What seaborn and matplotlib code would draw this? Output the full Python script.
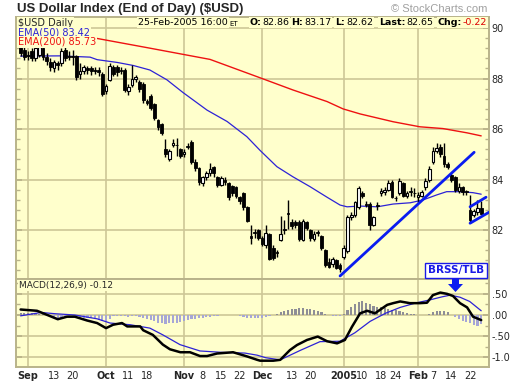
import numpy as np
import pandas as pd
import matplotlib
matplotlib.use("Agg")
import matplotlib.pyplot as plt
from matplotlib.ticker import MultipleLocator
from matplotlib.patches import Polygon
import seaborn as sns

sns.set_theme(style="ticks")
plt.rcParams['font.family'] = ['DejaVu Sans']

# trading days Aug 30 2004 .. Feb 25 2005
holidays = ["2004-09-06", "2004-11-25", "2004-12-24", "2005-01-17", "2005-02-21"]
dates = pd.bdate_range("2004-08-30", "2005-02-25")
dates = dates[~dates.isin(pd.to_datetime(holidays))]

opens = [89.30, 89.15, 88.90, 89.10, 88.80, 88.95, 89.20, 88.85, 88.65, 88.40,
         88.60, 88.60, 89.15, 88.85, 88.90, 88.90, 88.20, 88.30, 88.40, 88.40,
         88.30, 88.35, 88.20, 87.50, 87.95, 88.45, 88.45, 88.35, 88.35, 87.50,
         87.75, 88.00, 87.85, 87.80, 87.10, 87.30, 87.00, 86.35, 86.20, 85.20,
         84.80, 85.35, 85.35, 85.20, 85.00, 85.30, 85.50, 84.70, 84.45, 83.85,
         84.10, 84.25, 84.50, 84.10, 83.80, 84.00, 83.85, 83.75, 83.70, 83.30,
         83.45, 82.90, 81.75, 81.90, 82.00, 81.70, 81.40, 81.85, 81.30, 81.10,
         81.60, 82.00, 82.65, 82.30, 82.30, 82.30, 81.60, 82.30, 82.00, 81.65,
         81.90, 81.75, 81.20, 80.75, 80.65, 80.80, 80.60, 80.95, 81.15, 82.50,
         82.60, 82.90, 83.45, 83.05, 83.05, 82.20, 82.95, 83.45, 83.50, 83.60,
         83.90, 83.25, 83.45, 83.85, 83.35, 83.50, 83.45, 83.30, 83.35, 83.70,
         84.00, 84.70, 85.15, 85.30, 84.95, 84.60, 84.20, 84.10, 83.55, 83.70,
         83.50, 82.80, 82.60, 82.70, 82.86]
highs = [89.45, 89.30, 89.10, 89.20, 89.30, 89.40, 89.30, 89.00, 88.80, 88.75,
         88.70, 89.20, 89.25, 89.10, 89.15, 88.95, 88.60, 88.55, 88.50, 88.50,
         88.45, 88.45, 88.25, 87.80, 88.60, 88.55, 88.55, 88.45, 88.40, 87.80,
         88.55, 88.15, 87.95, 87.85, 87.20, 87.40, 87.05, 86.40, 86.25, 85.60,
         85.20, 85.60, 85.65, 85.25, 85.20, 85.45, 85.55, 84.80, 84.50, 84.15,
         84.35, 84.65, 84.55, 84.15, 84.15, 84.10, 83.90, 83.80, 83.75, 83.35,
         83.50, 82.95, 82.20, 82.05, 82.05, 81.75, 82.20, 81.90, 81.40, 81.20,
         82.55, 82.40, 83.20, 82.45, 82.40, 82.40, 82.45, 82.35, 82.05, 81.95,
         82.00, 81.80, 81.25, 80.90, 80.95, 80.85, 80.70, 81.40, 82.60, 82.70,
         83.15, 83.75, 83.55, 83.15, 83.10, 82.55, 83.10, 83.65, 83.70, 84.00,
         84.00, 83.35, 84.05, 83.90, 83.55, 83.70, 83.65, 83.50, 83.60, 84.05,
         84.55, 85.30, 85.45, 85.40, 85.45, 84.70, 84.25, 84.15, 83.85, 83.75,
         83.60, 83.40, 82.85, 83.20, 83.17]
lows = [88.90, 88.75, 88.75, 88.70, 88.70, 88.85, 88.75, 88.55, 88.30, 88.25,
        88.35, 88.50, 88.70, 88.75, 88.55, 87.95, 88.00, 88.20, 88.20, 88.15,
        88.20, 88.10, 87.30, 87.40, 87.90, 88.10, 88.10, 88.20, 87.45, 87.35,
        87.65, 87.85, 87.45, 87.05, 86.95, 86.75, 86.35, 85.95, 85.75, 84.90,
        84.75, 85.30, 84.95, 84.85, 84.90, 85.20, 84.60, 84.35, 83.80, 83.75,
        84.00, 84.15, 84.10, 83.70, 83.75, 83.80, 83.20, 83.35, 83.25, 83.05,
        82.80, 82.30, 81.45, 81.70, 81.60, 81.35, 81.30, 80.80, 80.80, 80.95,
        81.55, 81.85, 82.05, 82.05, 82.10, 81.55, 81.55, 82.00, 81.55, 81.55,
        81.75, 81.20, 80.55, 80.50, 80.55, 80.45, 80.35, 80.85, 81.10, 82.40,
        82.50, 82.85, 83.25, 82.90, 82.00, 82.15, 82.80, 83.35, 83.40, 83.55,
        83.25, 83.15, 83.40, 83.30, 83.25, 83.35, 83.30, 83.10, 83.30, 83.60,
        83.90, 84.60, 85.05, 84.90, 84.50, 84.40, 83.90, 83.50, 83.45, 83.40,
        83.40, 82.30, 82.50, 82.60, 82.62]
closes = [89.00, 88.85, 88.95, 88.80, 89.20, 89.25, 88.85, 88.70, 88.45, 88.65,
          88.55, 89.10, 88.80, 88.90, 88.85, 88.05, 88.30, 88.45, 88.35, 88.30,
          88.35, 88.25, 87.40, 87.70, 88.50, 88.20, 88.25, 88.30, 87.55, 87.65,
          88.00, 88.05, 87.60, 87.15, 87.05, 86.85, 86.45, 86.10, 85.85, 85.00,
          85.15, 85.45, 85.35, 84.95, 85.10, 85.30, 84.70, 84.45, 83.90, 84.10,
          84.25, 84.40, 84.25, 83.80, 84.05, 83.90, 83.30, 83.45, 83.35, 83.15,
          82.90, 82.35, 81.70, 81.90, 81.70, 81.45, 81.90, 80.85, 80.90, 81.10,
          81.85, 82.00, 82.65, 82.15, 82.20, 81.65, 82.35, 82.10, 81.70, 81.85,
          81.90, 81.30, 80.60, 80.55, 80.85, 80.50, 80.45, 81.30, 82.50, 82.60,
          83.10, 83.65, 83.35, 83.00, 82.20, 82.50, 82.95, 83.55, 83.60, 83.85,
          83.30, 83.25, 83.95, 83.35, 83.45, 83.50, 83.45, 83.40, 83.50, 83.95,
          84.40, 85.15, 85.25, 85.00, 84.60, 84.50, 84.00, 83.60, 83.70, 83.50,
          83.50, 82.40, 82.75, 82.87, 82.65]

# moving averages (trading-day index, value)
ema50_at = [0, 10.6, 18.7, 20.6, 26, 30.3, 34.8, 39.4, 43.7, 50.2, 55.6, 60.9, 64.5,
            69, 73.3, 77.9, 82.5, 86, 87.9, 91.4, 96, 100.3, 104.9, 108.3, 112,
            114.7, 118.2, 121.8, 124]
ema50_val = [88.89, 88.90, 88.85, 88.75, 88.64, 88.52, 88.34, 87.95, 87.45, 86.75,
             86.30, 85.70, 85.15, 84.51, 84.11, 83.72, 83.30, 82.99, 82.92, 82.95,
             82.92, 83.03, 83.08, 83.19, 83.39, 83.52, 83.52, 83.48, 83.42]
ema200_at = [20.6, 35, 51, 64.5, 73.3, 82.5, 86.8, 91.4, 100.3, 107.5, 113.7, 120.2, 124]
ema200_val = [89.59, 89.20, 88.76, 88.03, 87.55, 87.09, 86.80, 86.60, 86.29, 86.09,
              86.02, 85.85, 85.73]

# trend lines drawn on the chart
trend_x = [[86, 122.1], [121, 125.3], [121, 126.4]]
trend_y = [[80.18, 85.08], [82.92, 83.30], [82.27, 82.73]]

# MACD(12,26,9)
macd_at = [0, 4.4, 10, 12.5, 14.6, 17.9, 20.6, 23, 24.9, 27.3, 28.7, 32.2, 33, 35.6,
           38.3, 40.2, 43, 45.6, 48.3, 50.2, 52.9, 57.2, 61, 63.7, 64.5, 68, 69.9,
           72.5, 74.4, 77.1, 80, 82.5, 85.2, 87.3, 89.2, 91.4, 93.3, 95.4, 98.7,
           100.3, 102.2, 104.8, 107.5, 109.4, 111, 113, 114.8, 116.4, 118.3, 120.2,
           121.8, 124]
macd_val = [0.13, 0.10, -0.10, -0.04, -0.04, -0.13, -0.19, -0.31, -0.23, -0.19,
            -0.27, -0.27, -0.36, -0.47, -0.70, -0.81, -0.88, -0.88, -0.97, -0.97,
            -0.91, -0.88, -0.98, -1.06, -1.08, -1.08, -1.06, -0.83, -0.71, -0.59,
            -0.51, -0.62, -0.67, -0.59, -0.28, 0.04, 0.10, 0.04, 0.24, 0.28, 0.32,
            0.28, 0.28, 0.29, 0.47, 0.53, 0.50, 0.45, 0.28, 0.18, -0.04, -0.12]
signal_at = [0, 5.5, 9.3, 14.6, 20.6, 24.1, 29.5, 34.8, 38.3, 42.9, 48.3, 53.7, 60.4,
             63.7, 66, 69.9, 75.2, 80.6, 86, 90, 94.1, 98.2, 102.2, 106.2, 110.3,
             113.5, 115.7, 118.3, 120.9, 124]
signal_val = [-0.02, 0.06, 0.03, 0.00, -0.09, -0.19, -0.23, -0.31, -0.47, -0.70,
              -0.85, -0.88, -0.90, -0.95, -1.01, -1.06, -0.84, -0.63, -0.62, -0.42,
              -0.15, 0.04, 0.18, 0.28, 0.36, 0.43, 0.47, 0.42, 0.32, 0.10]
hist = [0.04, 0.05, 0.05, 0.05, 0.04, 0.03, 0.02, -0.01, -0.04, -0.07,
        -0.09, -0.08, -0.06, -0.04, -0.03, -0.04, -0.05, -0.06, -0.07, -0.08,
        -0.10, -0.12, -0.15, -0.16, -0.10, -0.03, -0.02, -0.02, -0.03, -0.04,
        -0.03, -0.03, -0.04, -0.06, -0.09, -0.12, -0.15, -0.18, -0.20, -0.21,
        -0.20, -0.19, -0.18, -0.16, -0.14, -0.12, -0.10, -0.09, -0.08, -0.06,
        -0.05, -0.04, -0.03, -0.02, -0.01, 0.00, 0.01, 0.00, -0.01, -0.02,
        -0.04, -0.06, -0.07, -0.07, -0.06, -0.06, -0.04, -0.02, 0.00, 0.03,
        0.06, 0.09, 0.12, 0.14, 0.15, 0.16, 0.16, 0.15, 0.14, 0.12,
        0.10, 0.07, 0.03, 0.00, -0.02, -0.03, -0.02, 0.03, 0.12, 0.20,
        0.27, 0.31, 0.32, 0.29, 0.25, 0.22, 0.20, 0.18, 0.16, 0.14,
        0.12, 0.11, 0.10, 0.07, 0.05, 0.03, 0.02, 0.01, 0.00, 0.01,
        0.03, 0.06, 0.09, 0.10, 0.09, 0.06, 0.00, -0.05, -0.10, -0.14,
        -0.17, -0.20, -0.23, -0.25, -0.22]

tick_dates = ["2004-09-01", "2004-09-13", "2004-09-20", "2004-10-01", "2004-10-11",
              "2004-10-18", "2004-11-01", "2004-11-08", "2004-11-15", "2004-11-22",
              "2004-12-01", "2004-12-13", "2004-12-20", "2005-01-03", "2005-01-10",
              "2005-01-18", "2005-01-24", "2005-02-01", "2005-02-07", "2005-02-14",
              "2005-02-22"]
tick_labels = ["Sep", "13", "20", "Oct", "11", "18", "Nov", "8", "15", "22", "Dec",
               "13", "20", "2005", "10", "18", "24", "Feb", "7", "14", "22"]

bg = '#ffffcc'
gridc = '#cdc797'
edge = '#b9b38a'
W, H = 520, 384

def box(x0, y0, x1, y1):
    return [x0 / W, 1 - y1 / H, (x1 - x0) / W, (y1 - y0) / H]

def ftext(x, y, s, **kw):
    return fig.text(x / W, 1 - y / H, s, **kw)

fig = plt.figure(figsize=(5.2, 3.84), dpi=100)
fig.patch.set_facecolor('white')
ax = fig.add_axes(box(16, 17, 489, 279))
ax2 = fig.add_axes(box(16, 279, 489, 367))

idx = np.arange(len(dates))
month_pos = [i for i in range(1, len(dates)) if dates[i].month != dates[i - 1].month]
tick_pos = [dates.get_loc(pd.Timestamp(d)) for d in tick_dates]

for a in (ax, ax2):
    a.set_facecolor(bg)
    a.set_xlim(-1.24, 126.1)
    for s in a.spines.values():
        s.set_color(edge)
        s.set_linewidth(1.4)
    for p in month_pos:
        a.axvline(p, color=gridc, lw=1.2, zorder=0)

# price panel
ax.set_ylim(80.06, 90.44)
for v in [82, 84, 86, 88, 90]:
    ax.axhline(v, color=gridc, lw=1.2, zorder=0)

sns.lineplot(x=ema200_at, y=ema200_val, ax=ax, color='#ee1111', lw=1.0, zorder=2)
sns.lineplot(x=ema50_at, y=ema50_val, ax=ax, color='#2d22d6', lw=0.9, zorder=2)

o = np.array(opens)
c = np.array(closes)
up = c > o
body_lo = np.minimum(o, c)
body_h = np.maximum(np.abs(c - o), 0.035)
ax.vlines(idx, lows, highs, color='black', lw=1.0, zorder=3)
ax.bar(idx[up], body_h[up], bottom=body_lo[up], width=0.74, color='white',
       edgecolor='black', linewidth=0.8, zorder=4)
ax.bar(idx[~up], body_h[~up], bottom=body_lo[~up], width=0.74, color='black',
       edgecolor='black', linewidth=0.6, zorder=4)

for tx, ty in zip(trend_x, trend_y):
    ax.plot(tx, ty, color='#0a1cf0', lw=2.0, solid_capstyle='round', zorder=5)

ax.yaxis.tick_right()
ax.set_yticks([82, 84, 86, 88, 90])
ax.set_yticklabels(["82", "84", "86", "88", "90"])
ax.yaxis.set_minor_locator(MultipleLocator(0.4))
ax.tick_params(axis='y', which='both', direction='in', left=True, right=True,
               labelleft=False, labelright=True, color=edge, labelsize=7, pad=2)
ax.tick_params(axis='y', which='major', length=4)
ax.tick_params(axis='y', which='minor', length=3)
ax.set_xticks([])
ax.set_xlabel("")
ax.set_ylabel("")

# MACD panel
ax2.set_ylim(-1.229, 0.851)
for v in [0.5, 0.0, -0.5, -1.0]:
    ax2.axhline(v, color=gridc, lw=1.2, zorder=0)
hv = np.array(hist)
ax2.bar(idx[hv >= 0], hv[hv >= 0], width=0.58, color='#8e8e96', linewidth=0, zorder=1)
ax2.bar(idx[hv < 0], hv[hv < 0], width=0.58, color='#a6a6d6', linewidth=0, zorder=1)
sns.lineplot(x=signal_at, y=signal_val, ax=ax2, color='#2d22d6', lw=0.9, zorder=2)
sns.lineplot(x=macd_at, y=macd_val, ax=ax2, color='black', lw=1.8, zorder=3)

ax2.yaxis.tick_right()
ax2.set_yticks([0.5, 0.0, -0.5, -1.0])
ax2.set_yticklabels([".50", ".00", "-.50", "-1.0"])
ax2.yaxis.set_minor_locator(MultipleLocator(0.25))
ax2.tick_params(axis='y', which='both', direction='in', left=True, right=True,
                labelleft=False, labelright=True, color=edge, labelsize=7, pad=2)
ax2.tick_params(axis='y', which='major', length=4)
ax2.tick_params(axis='y', which='minor', length=3)
ax2.set_xticks(tick_pos)
ax2.set_xticklabels(tick_labels)
ax2.tick_params(axis='x', length=0, pad=3, labelsize=7)
for lab in ax2.get_xticklabels():
    if not lab.get_text().isdigit() or lab.get_text() == "2005":
        lab.set_fontweight('bold')
ax2.set_xlabel("")
ax2.set_ylabel("")

# texts
ftext(17, 9, "US Dollar Index (End of Day) ($USD)", fontsize=9.5, fontweight='bold',
      family=['Liberation Sans', 'DejaVu Sans'], va='center', ha='left')
ftext(487, 9, "\u00a9 StockCharts.com", fontsize=8, color='#a0a0a0', va='center',
      ha='right', family=['Liberation Sans', 'DejaVu Sans'])

lab_box = dict(facecolor=bg, edgecolor='none', pad=0.6)
ftext(18, 22.5, "$USD Daily", fontsize=7, va='center', ha='left', bbox=lab_box)
ftext(18, 32.5, "EMA(50) 83.42", fontsize=7, color='#2d22d6', va='center', ha='left',
      bbox=lab_box)
ftext(18, 42, "EMA(200) 85.73", fontsize=7, color='#ee1111', va='center', ha='left',
      bbox=lab_box)

# header pieces laid out right to left from the panel's right edge
header = [("-0.22", 'normal', '#dd0000', 6.8, 0),
          ("Chg:", 'bold', 'black', 6.8, 1),
          ("82.65", 'normal', 'black', 6.8, 4),
          ("Last:", 'bold', 'black', 6.8, 1),
          ("82.62", 'normal', 'black', 6.8, 6),
          ("L:", 'bold', 'black', 6.8, 1),
          ("83.17", 'normal', 'black', 6.8, 4),
          ("H:", 'bold', 'black', 6.8, 1),
          ("82.86", 'normal', 'black', 6.8, 2),
          ("O:", 'bold', 'black', 6.8, 1),
          ("ET", 'normal', 'black', 5, 12),
          ("25-Feb-2005 16:00", 'normal', 'black', 6.8, 1)]
renderer = fig.canvas.get_renderer()
right = 487.0
for s, wt, col, fs, gap in header:
    right -= gap
    t = ftext(right, 22.5 if fs > 6 else 23.5, s, fontsize=fs, fontweight=wt,
              color=col, va='center', ha='right', bbox=lab_box)
    right -= t.get_window_extent(renderer).width

ftext(19, 285.5, "MACD(12,26,9) -0.12", fontsize=6.5, va='center', ha='left',
      bbox=lab_box)

# BRSS/TLB signal label and arrow
ftext(456, 270, "BRSS/TLB", fontsize=7.5, fontweight='bold', color='#1a1ae6',
      va='center', ha='center', zorder=10,
      bbox=dict(facecolor='white', edgecolor='#1a1ae6', pad=1.8, lw=1))
arrow_px = [(452, 278), (459, 278), (459, 284), (463, 284), (455.5, 292),
            (448, 284), (452, 284)]
fig.patches.append(Polygon([(px / W, 1 - py / H) for px, py in arrow_px], closed=True,
                           transform=fig.transFigure, facecolor='#0a1cf0',
                           edgecolor='none', zorder=10))

fig.savefig("out.png", dpi=100, facecolor='white')
